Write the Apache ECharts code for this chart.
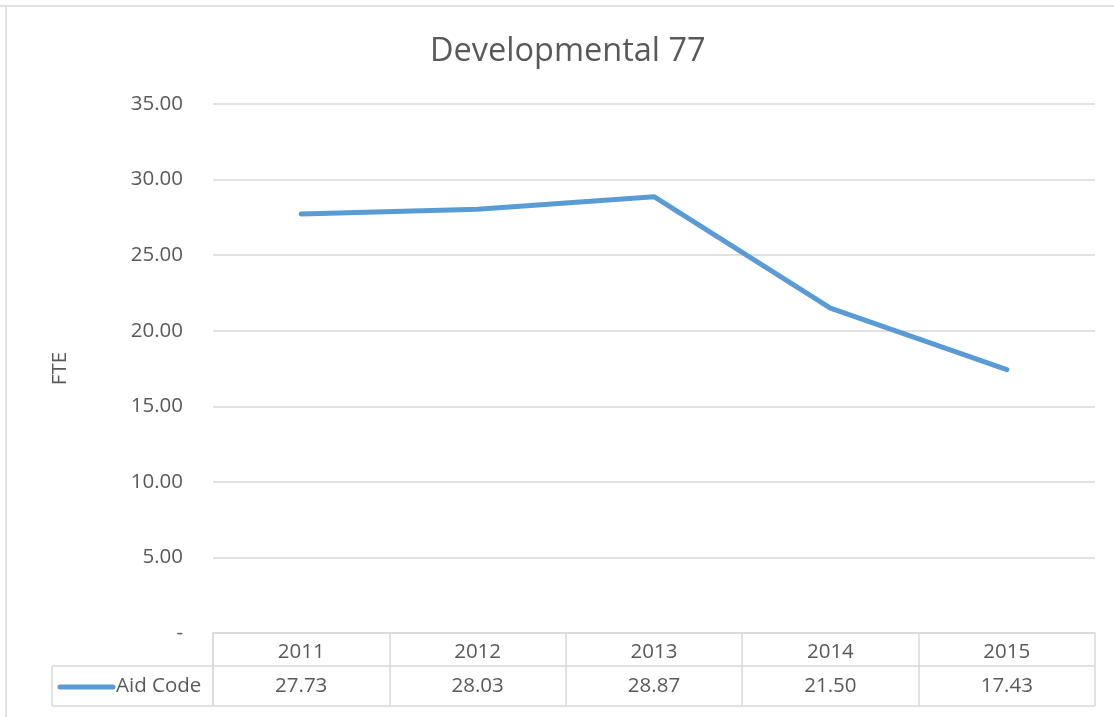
<!DOCTYPE html>
<html><head><meta charset="utf-8">
<script src="https://cdn.jsdelivr.net/npm/echarts@6/dist/echarts.min.js"></script>
<style>html,body{margin:0;padding:0;background:#fff}#c{width:1114px;height:717px}</style>
</head><body><div id="c"></div>
<script>
const titleText = 'Developmental 77';
const categories = ['2011','2012','2013','2014','2015'];
const seriesName = 'Aid Code';
const values = [27.73, 28.03, 28.87, 21.50, 17.43];
const yTicks = {min: 0, max: 35, interval: 5};
const yAxisName = 'FTE';

const FONT = '"Open Sans", "DejaVu Sans", sans-serif';
const TXT = '#595959';
const BORDER = '#d9d9d9';
const FS = 20.5;
const chart = echarts.init(document.getElementById('c'));
chart.setOption({
  animation: false,
  backgroundColor: '#fff',
  title: {text: titleText, left: 425, top: 30,
    textStyle: {fontFamily: FONT, fontSize: 32.5, fontWeight: 'normal', color: TXT}},
  grid: {left: 213, right: 19, top: 104, bottom: 84, containLabel: false},
  xAxis: {type: 'category', data: categories, boundaryGap: true,
    axisLine: {show: true, lineStyle: {color: BORDER, width: 1.5}},
    axisTick: {show: true, length: 73, lineStyle: {color: BORDER, width: 1.5}},
    axisLabel: {margin: 9, fontFamily: FONT, fontSize: FS, color: TXT}},
  yAxis: {type: 'value', min: yTicks.min, max: yTicks.max, interval: yTicks.interval,
    name: yAxisName, nameLocation: 'middle', nameGap: 142, nameRotate: 90,
    nameTextStyle: {fontFamily: FONT, fontSize: FS, color: TXT},
    axisLine: {show: false}, axisTick: {show: false},
    axisLabel: {margin: 30, fontFamily: FONT, fontSize: FS, color: TXT,
      formatter: v => v === 0 ? '-' : v.toFixed(2)},
    splitLine: {lineStyle: {color: BORDER, width: 1.5}}},
  series: [{name: seriesName, type: 'line', data: values, symbol: 'none',
    lineStyle: {color: '#5b9bd5', width: 5, cap: 'round', join: 'round'}}]
});

function drawTable() {
  const x0 = chart.convertToPixel({xAxisIndex: 0}, categories[0]);
  const x1 = chart.convertToPixel({xAxisIndex: 0}, categories[1]);
  const step = x1 - x0;
  const left = x0 - step / 2;
  const right = left + step * categories.length;
  const top = chart.convertToPixel({yAxisIndex: 0}, 0);
  const rowMid = top + 33;
  const bottom = top + 73;
  const legLeft = 52;
  const els = [];
  const ln = (a, b, c, d) => els.push({type: 'line', shape: {x1: a, y1: b, x2: c, y2: d},
    style: {stroke: BORDER, lineWidth: 1.5}, silent: true});
  ln(legLeft, rowMid, right, rowMid);
  ln(legLeft, bottom, right, bottom);
  ln(legLeft, rowMid, legLeft, bottom);
  ln(left, top, left, bottom);
  values.forEach((v, i) => {
    els.push({type: 'text', x: x0 + step * i, y: (rowMid + bottom) / 2,
      style: {text: v.toFixed(2), fontFamily: FONT, fontSize: FS, fill: TXT,
        align: 'center', verticalAlign: 'middle'}, silent: true});
  });
  els.push({type: 'line', shape: {x1: 60, y1: (rowMid + bottom) / 2 + 1, x2: 113, y2: (rowMid + bottom) / 2 + 1},
    style: {stroke: '#5b9bd5', lineWidth: 5, lineCap: 'round'}, silent: true});
  els.push({type: 'text', x: 116, y: (rowMid + bottom) / 2,
    style: {text: seriesName, fontFamily: FONT, fontSize: FS, fill: TXT,
      align: 'left', verticalAlign: 'middle'}, silent: true});
  // outer chart border (top and left visible)
  ln(0, 6, 1114, 6);
  ln(6, 6, 6, 717);
  chart.setOption({graphic: {elements: els}});
}
drawTable();
</script></body></html>
